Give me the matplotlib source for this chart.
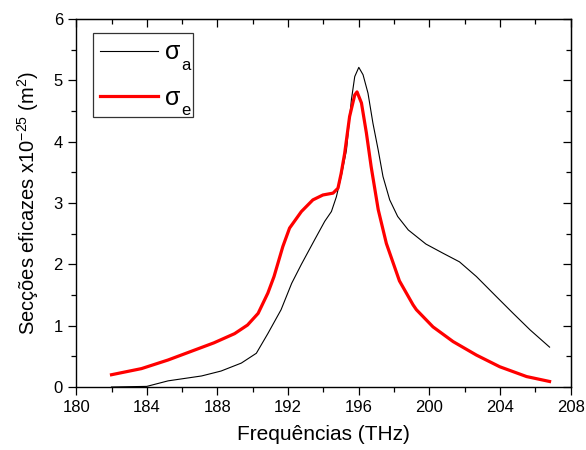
#!/usr/bin/env python3
"""Absorption / emission cross sections vs frequency."""

import matplotlib

matplotlib.use("Agg")
import matplotlib.pyplot as plt
from matplotlib.ticker import MultipleLocator

plt.rcParams["font.family"] = ["Liberation Sans", "DejaVu Sans"]
plt.rcParams["mathtext.default"] = "regular"

# sigma_a (absorption)
freq_a = [182.0, 184.0, 185.2, 187.1, 188.2, 189.35, 190.2, 190.85, 191.6, 192.2,
          192.75, 193.5, 194.07, 194.45, 194.73, 195.0, 195.3, 195.58, 195.77, 196.0,
          196.24, 196.52, 196.8, 197.1, 197.37, 197.75, 198.2, 198.8, 199.8, 200.77,
          201.7, 202.66, 203.8, 204.74, 205.7, 206.8]
sigma_a = [0.0, 0.01, 0.10, 0.18, 0.26, 0.39, 0.55, 0.87, 1.26, 1.69,
           2.0, 2.40, 2.70, 2.86, 3.10, 3.43, 3.86, 4.68, 5.06, 5.21,
           5.09, 4.79, 4.30, 3.86, 3.43, 3.05, 2.78, 2.56, 2.33, 2.18,
           2.04, 1.80, 1.47, 1.20, 0.93, 0.65]

# sigma_e (emission)
freq_e = [182.0, 183.7, 185.2, 186.5, 187.8, 188.97, 189.7, 190.3, 190.85, 191.2,
          191.7, 192.08, 192.75, 193.4, 193.97, 194.54, 194.82, 195.0, 195.2, 195.48,
          195.77, 195.9, 196.15, 196.43, 196.7, 197.1, 197.56, 198.3, 199.07, 199.26,
          200.2, 201.34, 202.66, 203.98, 205.5, 206.8]
sigma_e = [0.20, 0.30, 0.44, 0.58, 0.72, 0.87, 1.01, 1.20, 1.53, 1.80,
           2.29, 2.59, 2.86, 3.05, 3.13, 3.16, 3.24, 3.48, 3.81, 4.41,
           4.76, 4.81, 4.63, 4.14, 3.59, 2.89, 2.34, 1.73, 1.34, 1.26,
           0.98, 0.74, 0.52, 0.33, 0.17, 0.09]

subscripts = ["a", "e"]

fig = plt.figure(figsize=(5.86, 4.5), dpi=100)
ax = fig.add_axes([0.130, 0.140, 0.844, 0.818])

ax.plot(freq_a, sigma_a, color="black", lw=0.8, label="σ\u2009")
ax.plot(freq_e, sigma_e, color="#ff0000", lw=2.3, label="σ\u2009")

ax.set_xlim(180, 208)
ax.set_ylim(0, 6)
ax.xaxis.set_major_locator(MultipleLocator(4))
ax.xaxis.set_minor_locator(MultipleLocator(2))
ax.yaxis.set_major_locator(MultipleLocator(1))
ax.yaxis.set_minor_locator(MultipleLocator(0.5))

ax.tick_params(which="both", direction="out", labelsize=12, width=0.9, colors="black")
ax.tick_params(which="major", length=6)
ax.tick_params(which="minor", length=3.5)

# inward ticks on top and right, no labels
top = ax.secondary_xaxis("top")
top.xaxis.set_major_locator(MultipleLocator(4))
top.xaxis.set_minor_locator(MultipleLocator(2))
top.tick_params(which="both", direction="in", labeltop=False, width=0.9)
top.tick_params(which="major", length=6)
top.tick_params(which="minor", length=3.5)

right = ax.secondary_yaxis("right")
right.yaxis.set_major_locator(MultipleLocator(1))
right.yaxis.set_minor_locator(MultipleLocator(0.5))
right.tick_params(which="both", direction="in", labelright=False, width=0.9)
right.tick_params(which="major", length=6)
right.tick_params(which="minor", length=3.5)

for spine in ax.spines.values():
    spine.set_linewidth(1.0)

ax.set_xlabel("Frequências (THz)", fontsize=15, labelpad=7)
ax.set_ylabel(r"Secções eficazes x10$^{-25}$ (m$^{2}$)", fontsize=14.5)
ax.yaxis.set_label_coords(-0.072, 0.5)

leg = ax.legend(loc="upper left", bbox_to_anchor=(0.034, 0.962), borderaxespad=0,
                fontsize=18, frameon=True, fancybox=False, handlelength=2.3,
                handletextpad=0.28, labelspacing=0.85, borderpad=0.3)
leg.get_frame().set_edgecolor("black")
leg.get_frame().set_linewidth(0.9)

# Origin-style dropped subscripts next to the sigma labels
for txt, sub in zip(leg.get_texts(), subscripts):
    ax.annotate(sub, xy=(0, 0), xycoords=txt, xytext=(12.0, -4.0),
                textcoords="offset points", fontsize=12, va="baseline", ha="left",
                annotation_clip=False, zorder=10)

fig.savefig("out.png", dpi=100)
